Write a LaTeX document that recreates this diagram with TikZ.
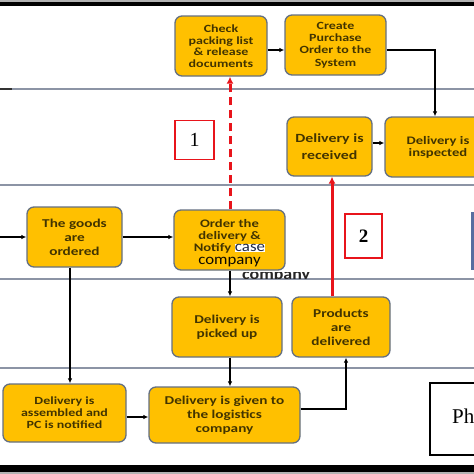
\documentclass[tikz,border=0pt]{standalone}
\usepackage{fontspec}
\setmainfont{Carlito}[FakeStretch=1.27]
\newfontfamily\plainfont{Carlito}[FakeStretch=1.12]
\newfontfamily\serifnum{Liberation Serif}
\usetikzlibrary{arrows.meta}
\definecolor{boxfill}{RGB}{255,192,0}
\definecolor{boxdraw}{RGB}{100,112,130}
\definecolor{boxtext}{RGB}{66,52,0}
\definecolor{casetext}{RGB}{30,40,70}
\definecolor{laneline}{RGB}{140,148,165}
\definecolor{redline}{RGB}{232,20,27}
\definecolor{bluebar}{RGB}{88,110,160}
\tikzset{
  procbox/.style={draw=boxdraw, line width=1.3pt, fill=boxfill, rounded corners=7pt,
    align=center, text=boxtext, font=\bfseries\fontsize{11}{11.5}\selectfont,
    inner sep=1pt},
  flow/.style={draw=black, line width=1.2pt, -{Latex[length=5pt,width=4.5pt]}},
  redflow/.style={draw=redline, line width=3pt, -{Latex[length=7pt,width=7pt]}},
  reddash/.style={redflow, dash pattern=on 8pt off 5pt},
  numbox/.style={draw=redline, line width=1.4pt, fill=white, inner sep=0pt},
  lane/.style={draw=laneline, line width=1.6pt}
}
\begin{document}
\begin{tikzpicture}[x=1pt,y=-1pt]
\useasboundingbox (0,0) rectangle (474,474);
\clip (0,0) rectangle (474,474);
\fill[white] (0,0) rectangle (474,474);
% frame bars
\fill[black!30] (0,0) rectangle (474,2);
\fill[black] (0,2) rectangle (474,5.5);
\fill[black] (0,465) rectangle (474,472);
\fill[black!30] (0,472) rectangle (474,474);
% lanes
\draw[lane] (0,89) -- (474,89);
\draw[black!80, line width=1.6pt] (0,89) -- (12,89);
\draw[lane] (0,185) -- (474,185);
\draw[lane] (0,279) -- (474,279);
\draw[lane] (0,368) -- (474,368);
% ghost text below the order box
\begin{scope}
\clip (240,272.5) rectangle (318,278.3);
\node[inner sep=0pt, anchor=north west, text=black!85,
  font=\plainfont\bfseries\fontsize{16}{16}\selectfont] (ghost) at (242,271) {company};
\end{scope}
% nodes
\node[procbox, minimum width=92pt, minimum height=60pt] (check) at (221,46)
  {Check\\packing list\\\&\ release\\documents};
\node[procbox, minimum width=101pt, minimum height=60pt,
  font=\bfseries\fontsize{11}{12.3}\selectfont] (create) at (335.5,45)
  {Create\\Purchase\\Order to the\\System};
\node[procbox, minimum width=85pt, minimum height=59pt,
  font=\bfseries\fontsize{12.5}{17}\selectfont] (received) at (329.5,146.5)
  {Delivery is\\received};
\node[procbox, minimum width=106pt, minimum height=60pt,
  font=\bfseries\fontsize{11.5}{12}\selectfont] (inspected) at (438,147)
  {Delivery is\\inspected};
\node[procbox, minimum width=95pt, minimum height=60pt,
  font=\bfseries\fontsize{12}{14}\selectfont] (goods) at (74.5,237)
  {The goods\\are\\ordered};
\node[procbox, minimum width=111pt, minimum height=60pt] (orderdel) at (229.5,240) {};
\node[align=center, inner sep=0pt, text=boxtext,
  font=\bfseries\fontsize{11.5}{12}\selectfont] (orderdeltext) at (229.5,243.5)
  {Order the\\delivery \&\\Notify {\plainfont\mdseries\fontsize{15}{12}\selectfont\color{casetext}\fboxsep=0.3pt\colorbox{white}{case}}\\[1pt]
   {\plainfont\mdseries\color{black!80!boxtext}\fontsize{15}{12}\selectfont company}};
\node[procbox, minimum width=110pt, minimum height=60pt,
  font=\bfseries\fontsize{12}{14}\selectfont] (picked) at (227,327)
  {Delivery is\\picked up};
\node[procbox, minimum width=98pt, minimum height=60pt,
  font=\bfseries\fontsize{12}{14}\selectfont] (products) at (341,327)
  {Products\\are\\delivered};
\node[procbox, minimum width=123pt, minimum height=58pt,
  font=\bfseries\fontsize{11}{12}\selectfont] (assembled) at (64.5,413)
  {Delivery is\\assembled and\\PC is notified};
\node[procbox, minimum width=151pt, minimum height=56pt,
  font=\bfseries\fontsize{12}{14}\selectfont] (given) at (224.5,415)
  {Delivery is given to\\the logistics\\company};
% number boxes
\node[numbox, minimum width=39pt, minimum height=39pt,
  font=\serifnum\fontsize{20}{20}\selectfont] (one) at (194.5,140) {1};
\node[numbox, minimum width=37pt, minimum height=44pt,
  font=\serifnum\bfseries\fontsize{19}{19}\selectfont] (two) at (363.5,236) {2};
% right partial shapes
\fill[bluebar] (471,212) rectangle (476,270);
\node[draw=black, line width=2pt, fill=white, minimum width=50pt, minimum height=72pt] (phbox) at (455,419) {};
\node[anchor=west, inner sep=0pt, font=\serifnum\fontsize{21}{21}\selectfont] (phtext) at (452,416) {Phase};
% connectors
\coordinate (lin) at (0,237);
\draw[flow] (lin) -- (goods.west |- lin);
\draw[flow] (goods.east |- lin) -- (orderdel.west |- lin);
\draw[flow] (70,0 |- goods.south) -- (70,0 |- assembled.north);
\draw[flow] (230,0 |- orderdel.south) -- (230,0 |- picked.north);
\draw[flow] (230,0 |- picked.south) -- (230,0 |- given.north);
\draw[flow] (assembled.east |- 0,417) -- (given.west |- 0,417);
\draw[flow] (given.east |- 0,409) -| (346,0 |- products.south);
\draw[flow] (check.east |- 0,50) -- (create.west |- 0,50);
\draw[flow] (create.east |- 0,50) -| (435,0 |- inspected.north);
\draw[flow] (received.east |- 0,143) -- (inspected.west |- 0,143);
\draw[redflow] (332,0 |- products.north) -- (332,0 |- received.south);
\draw[reddash] (230,0 |- orderdel.north) -- (230,0 |- check.south);
\end{tikzpicture}
\end{document}
